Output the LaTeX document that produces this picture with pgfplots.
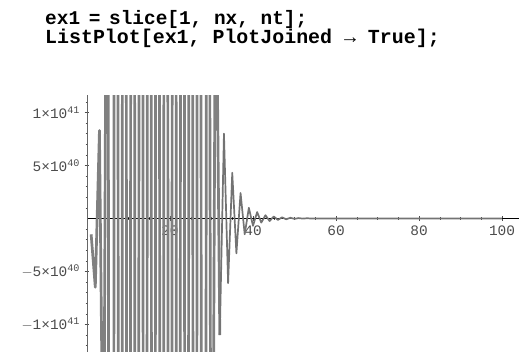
\documentclass[border=0pt]{standalone}
\usepackage{pgfplots}
\pgfplotsset{compat=1.18}
\usepackage{fontspec}
\setmainfont{Liberation Serif}
\newfontfamily\codefont{Liberation Mono}
\begin{document}
\begin{tikzpicture}
\useasboundingbox (0bp,0bp) rectangle (520bp,356bp);
\node[anchor=base west, inner sep=0pt, font=\codefont\bfseries\fontsize{19.5}{20}\selectfont] at (45bp,331bp) {ex1\hspace{-3bp} = \hspace{-3bp}slice[1, nx, nt];};
\node[anchor=base west, inner sep=0pt, font=\codefont\bfseries\fontsize{20}{20}\selectfont] at (45bp,312.5bp) {ListPlot[ex1, PlotJoined → True];};
\begin{axis}[
  at={(87bp,4bp)}, anchor=south west,
  width=431.6bp, height=256.5bp, scale only axis,
  xmin=0, xmax=104, ymin=-1.26, ymax=1.16,
  axis lines=middle, axis line style={-},
  x axis line style={black},
  y axis line style={black!60},
  clip=true,
  xtick={20,40,60,80,100},
  xticklabels={20,40,60,80,100},
  minor xtick={5,10,...,100},
  ytick={-1,-0.5,0.5,1},
  yticklabels={{$-$1×10\textsuperscript{41}},{$-$5×10\textsuperscript{40}},{5×10\textsuperscript{40}},{1×10\textsuperscript{41}}},
  minor ytick={-1.2,-1.1,-0.9,-0.8,-0.7,-0.6,-0.4,-0.3,-0.2,-0.1,0.1,0.2,0.3,0.4,0.6,0.7,0.8,0.9,1.1},
  major tick length=5bp, minor tick length=3bp,
  tick style={black!70, line width=0.5bp},
  ticklabel style={font=\codefont\fontsize{14.5}{14.5}\selectfont, text=black!70},
  xticklabel style={anchor=north, yshift=-1bp},
  yticklabel style={anchor=east, xshift=-1bp},
]
\addplot[black!50, line width=2.7bp, line join=round] table {
x y
1 -0.15
2 -0.65
3 0.83
4 -3
5 6
6 -30
7 30
8 -30
9 30
10 -30
11 30
12 -30
13 30
14 -30
15 30
16 -30
17 30
18 -30
19 30
20 -30
21 30
22 -30
23 30
24 -30
25 30
26 -30
27 30
28 -30
29 12
30 -6
31 3
32 -1.1
};
\addplot[black!55, line width=1.7bp, line join=round] table {
x y
32 -1.1
33 0.8
34 -0.61
35 0.43
36 -0.33
37 0.24
38 -0.15
39 0.1
40 -0.07
41 0.06
42 -0.04
43 0.03
44 -0.025
45 0.018
46 -0.014
47 0.01
48 -0.008
49 0.006
50 -0.004
51 0.003
52 -0.002
53 0.0015
54 -0.001
55 0
56 0
57 0
58 0
59 0
60 0
61 0
62 0
63 0
64 0
65 0
66 0
67 0
68 0
69 0
70 0
71 0
72 0
73 0
74 0
75 0
76 0
77 0
78 0
79 0
80 0
81 0
82 0
83 0
84 0
85 0
86 0
87 0
88 0
89 0
90 0
91 0
92 0
93 0
94 0
95 0
96 0
97 0
98 0
99 0
100 0
};
\end{axis}
\end{tikzpicture}
\end{document}
